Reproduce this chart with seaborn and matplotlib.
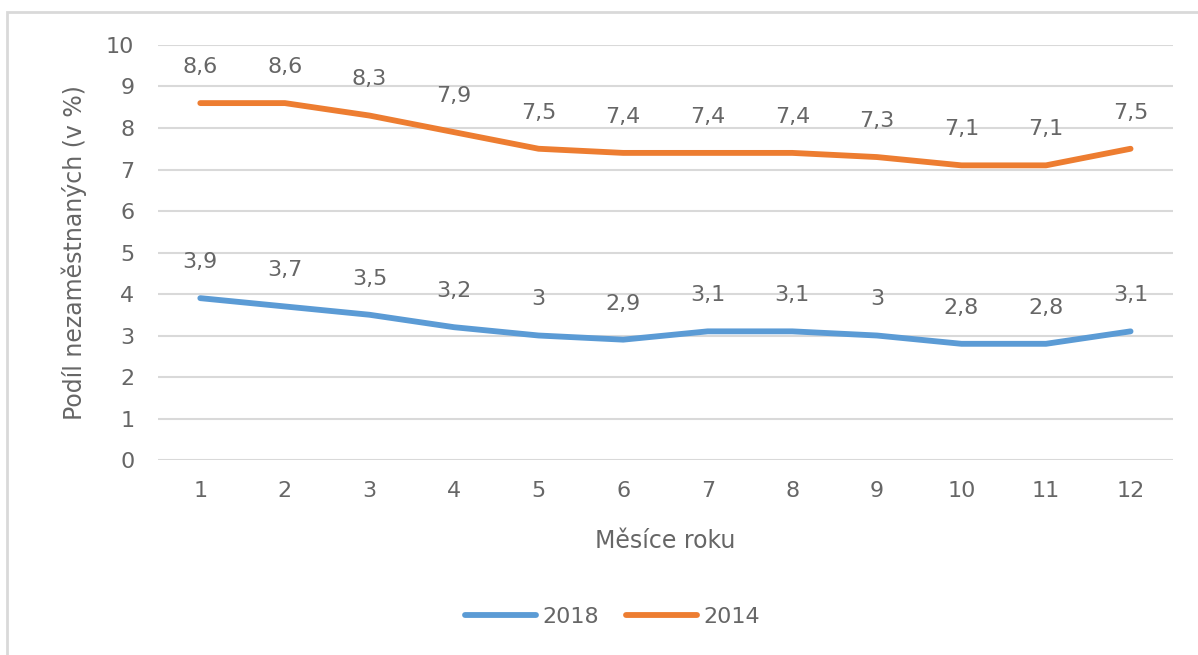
import matplotlib
matplotlib.use("Agg")
import matplotlib.pyplot as plt
import matplotlib.patches as patches
import pandas as pd
import seaborn as sns

months = list(range(1, 13))
rate_2018 = [3.9, 3.7, 3.5, 3.2, 3.0, 2.9, 3.1, 3.1, 3.0, 2.8, 2.8, 3.1]
rate_2014 = [8.6, 8.6, 8.3, 7.9, 7.5, 7.4, 7.4, 7.4, 7.3, 7.1, 7.1, 7.5]
series_names = ["2018", "2014"]
colors = ["#5B9BD5", "#ED7D31"]

df = pd.DataFrame({
    "month": months * 2,
    "rate": rate_2018 + rate_2014,
    "year": ["2018"] * 12 + ["2014"] * 12,
})

sns.set_style("white")
plt.rcParams["font.family"] = ["DejaVu Sans"]
text_col = "#666666"

fig = plt.figure(figsize=(11.98, 6.55), dpi=100)
ax = fig.add_axes([0.1319, 0.2977, 0.979 - 0.1319, 0.9313 - 0.2977])

# chart border like the Excel frame
fig.patches.append(patches.Rectangle((7 / 1198, -0.05), 1.2, 1 - 12 / 655 + 0.05,
                                     transform=fig.transFigure, fill=False,
                                     edgecolor="#D9D9D9", linewidth=2))

sns.lineplot(data=df, x="month", y="rate", hue="year", hue_order=series_names,
             palette=colors, linewidth=4.2, ax=ax, solid_capstyle="round")

# value labels above every point
for vals in [rate_2018, rate_2014]:
    for m, v in zip(months, vals):
        lab = f"{v:g}".replace(".", ",")
        ax.annotate(lab, (m, v), xytext=(0, 26), textcoords="offset points",
                    ha="center", va="center", fontsize=16, color=text_col)

ax.set_xlim(0.5, 12.5)
ax.set_ylim(0, 10)
ax.set_xticks(months)
ax.set_yticks(range(0, 11))
ax.tick_params(axis="x", length=0, labelsize=16, labelcolor=text_col, pad=15)
ax.tick_params(axis="y", length=0, labelsize=16, labelcolor=text_col, pad=17)
ax.grid(axis="y", color="#D9D9D9", linewidth=1.5)
ax.set_axisbelow(True)
for s in ax.spines.values():
    s.set_visible(False)

ax.set_xlabel("Měsíce roku", fontsize=17, color=text_col, labelpad=20)
ax.set_ylabel("Podíl nezaměstnaných (v %)", fontsize=17, color=text_col, labelpad=14)

leg = ax.legend(loc="center", bbox_to_anchor=(0.448, -0.378),
                ncol=2, frameon=False, fontsize=16, handlelength=3.2,
                handletextpad=0.3, columnspacing=1.2)
for t in leg.get_texts():
    t.set_color(text_col)
for h in leg.get_lines():
    h.set_solid_capstyle("round")

fig.savefig("out.png", dpi=100)
